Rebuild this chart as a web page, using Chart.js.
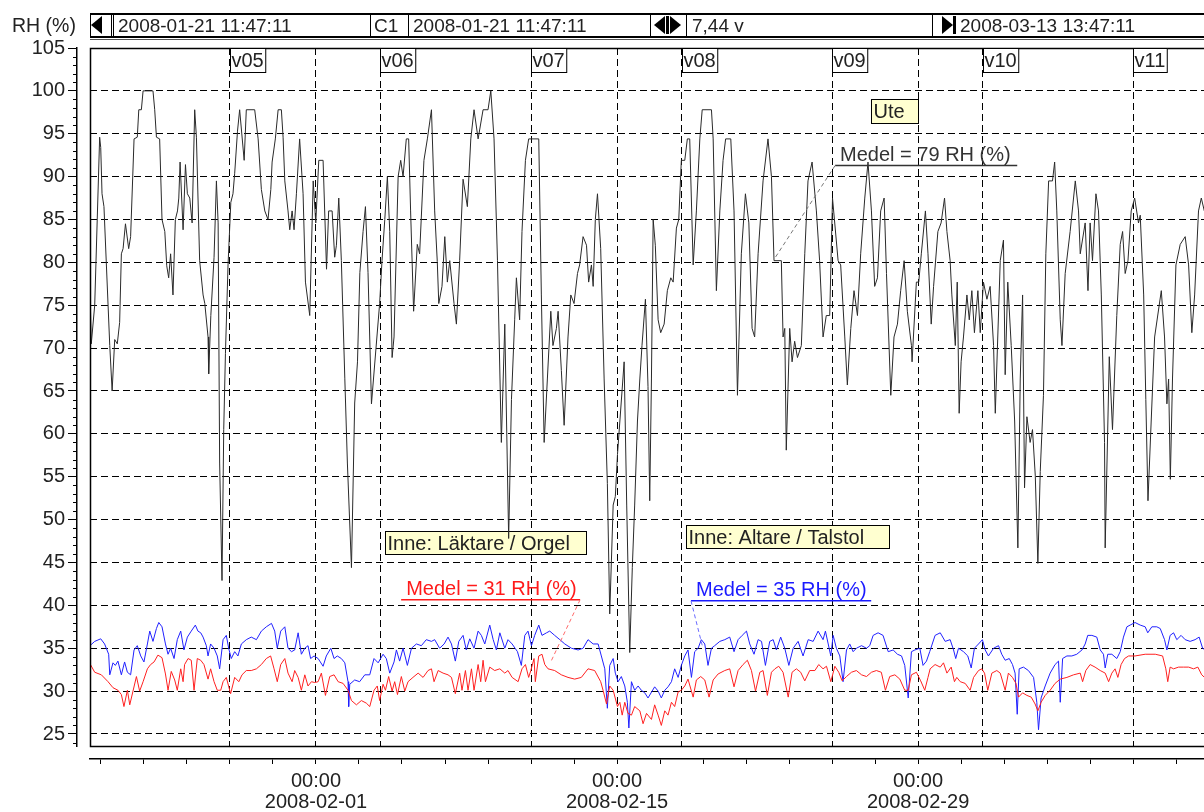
<!DOCTYPE html>
<html lang="sv">
<head>
<meta charset="utf-8">
<title>RH (%)</title>
<script src="https://cdn.jsdelivr.net/npm/chart.js@4.4.1/dist/chart.umd.min.js"></script>
<style>
  html, body { margin: 0; padding: 0; background: #fff; }
  body { width: 1204px; height: 812px; overflow: hidden; position: relative;
         font-family: "Liberation Sans", Arial, sans-serif; color: #222; }
  #graf { position: absolute; left: 0; top: 0; }
  #verktyg { position: absolute; left: 90px; top: 13px; width: 1130px; height: 25px; box-sizing: border-box;
             border: 1px solid #000; border-top-width: 2px; border-bottom-width: 2px; }
  #understreck { position: absolute; left: 90px; top: 39px; width: 1130px; height: 1px; background: #555; }
  .txt { position: absolute; top: 13px; line-height: 25px; font-size: 19px; white-space: nowrap; }
  .linje { position: absolute; top: 13px; width: 1px; height: 25px; background: #000; }
  .vpil { position: absolute; top: 16px; width: 0; height: 0; border-top: 9px solid transparent;
          border-bottom: 9px solid transparent; border-right: 11px solid #000; }
  .hpil { position: absolute; top: 16px; width: 0; height: 0; border-top: 9px solid transparent;
          border-bottom: 9px solid transparent; border-left: 11px solid #000; }
  .stapel { position: absolute; top: 16px; height: 18px; background: #000; }
  #rh { position: absolute; left: 12px; top: 13px; line-height: 25px; font-size: 19.5px; }
</style>
</head>
<body>
<canvas id="graf" width="1210" height="812"></canvas>

<div id="rh">RH (%)</div>
<div id="verktyg"></div>
<div id="understreck"></div>
<span class="vpil" style="left:91px"></span>
<span class="linje" style="left:111px"></span>
<span class="linje" style="left:113px"></span>
<span class="txt" style="left:118px">2008-01-21 11:47:11</span>
<span class="linje" style="left:370px"></span>
<span class="txt" style="left:374px">C1</span>
<span class="linje" style="left:408px"></span>
<span class="txt" style="left:413px">2008-01-21 11:47:11</span>
<span class="linje" style="left:650px"></span>
<span class="vpil" style="left:654px"></span>
<span class="stapel" style="left:666px;width:3px"></span>
<span class="hpil" style="left:670px"></span>
<span class="linje" style="left:686px"></span>
<span class="txt" style="left:692px">7,44 v</span>
<span class="linje" style="left:932px"></span>
<span class="hpil" style="left:942px"></span>
<span class="stapel" style="left:953px;width:3px"></span>
<span class="txt" style="left:960px">2008-03-13 13:47:11</span>

<script>
// Tidsaxel i dagar från 2008-01-21 00:00
const xMin = 0.4911;   // 2008-01-21 11:47:11
const xMax = 52.5744;  // 2008-03-13 13:47:11
const yMin = 23.6;
const yMax = 105;

const rhTicks = [25, 30, 35, 40, 45, 50, 55, 60, 65, 70, 75, 80, 85, 90, 95, 100, 105];
const datumDagar = [11, 25, 39];
const datumText = ["2008-02-01", "2008-02-15", "2008-02-29"];
const veckoDagar = [7, 14, 21, 28, 35, 42, 49];
const veckoText = ["v05", "v06", "v07", "v08", "v09", "v10", "v11"];

// Ute (svart)
const uteDag = [0.49,0.55,0.71,0.94,0.99,1.05,1.14,1.41,1.52,1.64,1.76,1.87,1.95,2.03,2.14,2.29,2.38,2.54,2.69,2.76,
  2.88,2.96,3.42,3.50,3.58,3.73,3.84,3.97,4.06,4.15,4.24,4.35,4.46,4.56,4.62,4.68,4.82,4.93,5.02,5.13,
  5.24,5.36,5.44,5.59,5.75,5.83,5.98,6.01,6.11,6.26,6.37,6.45,6.52,6.63,6.71,6.79,6.91,7.04,7.14,7.22,
  7.35,7.45,7.66,7.76,8.15,8.31,8.46,8.62,8.77,8.90,8.96,9.11,9.24,9.39,9.47,9.55,9.70,9.78,9.89,9.98,
  10.09,10.24,10.40,10.51,10.71,10.87,10.99,11.13,11.33,11.49,11.59,11.75,11.87,11.95,12.06,12.18,12.34,12.46,12.65,12.80,
  12.93,13.04,13.19,13.30,13.42,13.58,13.96,14.07,14.20,14.32,14.43,14.54,14.63,14.82,14.94,15.05,15.20,15.31,15.40,15.54,
  15.71,15.82,16.02,16.18,16.37,16.52,16.64,16.71,16.86,16.99,17.11,17.22,17.42,17.53,17.68,17.84,18.04,18.20,18.35,18.54,
  18.77,19.00,19.13,19.28,19.44,19.62,19.78,19.96,20.09,20.24,20.32,20.47,20.58,20.74,20.89,21.36,21.48,21.61,21.76,21.92,
  22.02,22.18,22.26,22.41,22.54,22.72,22.85,23.00,23.16,23.26,23.42,23.58,23.68,23.81,23.89,23.99,24.09,24.24,24.40,24.55,
  24.66,24.82,24.92,25.02,25.33,25.45,25.59,25.71,25.82,25.95,26.06,26.16,26.32,26.44,26.52,26.60,26.68,26.78,26.91,27.03,
  27.19,27.34,27.50,27.61,27.76,27.87,27.99,28.15,28.27,28.38,28.54,28.69,28.85,28.96,29.39,29.47,29.62,29.78,29.93,30.05,
  30.29,30.44,30.60,30.78,30.97,31.13,31.28,31.40,31.56,31.79,32.02,32.18,32.30,32.64,32.72,32.80,32.87,33.03,33.14,33.26,
  33.39,33.57,33.73,33.88,34.07,34.27,34.42,34.58,34.73,34.89,35.02,35.28,35.40,35.59,35.71,35.87,36.02,36.18,36.33,36.52,
  36.67,36.83,36.98,37.11,37.26,37.42,37.53,37.73,37.88,38.04,38.19,38.35,38.50,38.69,38.72,38.92,39.03,39.15,39.34,39.46,
  39.61,39.72,39.92,40.07,40.23,40.34,40.49,40.57,40.73,40.82,40.91,41.00,41.11,41.27,41.38,41.50,41.62,41.78,41.89,42.04,
  42.20,42.35,42.51,42.59,42.82,42.97,43.05,43.17,43.33,43.49,43.64,43.75,43.86,43.95,44.06,44.21,44.32,44.45,44.57,44.68,
  44.83,44.94,45.07,45.25,45.35,45.45,45.61,45.69,45.84,46.07,46.31,46.46,46.54,46.77,46.90,47.00,47.11,47.27,47.39,47.52,
  47.67,47.70,47.89,48.04,48.24,48.40,48.51,48.63,48.76,48.91,49.07,49.25,49.33,49.49,49.59,49.69,49.84,50.00,50.31,50.46,
  50.57,50.65,50.73,50.83,50.99,51.19,51.42,51.58,51.73,51.86,52.04,52.17,52.31,52.57];
const uteRH = [77,70.5,75,94.6,93.4,88,86.5,70.3,65,71,70.5,73,81,81.6,84.5,81.6,83,94.4,94.6,97.8,
  97.8,100,100,97.8,94.6,94.4,85,83.6,79.6,78.2,81,76.2,85,86,87.5,91.7,83.8,91.4,88,87.5,
  84.6,97.8,94.6,80.2,76.2,75.2,71.3,67,73.8,80.6,89.5,84.6,56.6,42.9,60.5,69.4,79.7,87,88,90.4,
  95.3,97.8,91.9,97.8,97.8,94.4,88.5,86,85,88.5,91.7,94.4,97.8,97.8,94.6,89.5,86,83.8,86,83.8,
  88,94.4,88,77.7,73.8,89.5,84.6,91.9,91.9,79.2,86,86,80.6,82,87.5,80.2,66.5,56.6,44.4,63.6,
  68.4,78.8,83.6,86.5,78.8,63.5,75.2,80.2,85,90,83.6,68.9,71.3,90,91.9,90,94.4,94.4,86,74.3,
  82.1,81,91.9,94.4,97.8,86,80.1,75.2,77.2,83,77.7,80.2,75.2,72.8,80.2,89.7,86.5,94.4,97.8,94.4,
  97.8,97.8,100,94.4,80.2,59,72.8,47.8,64,73.3,78.2,73.3,83.6,91.9,94.4,94.4,76.2,59,66.4,74.3,
  70.3,72.3,74.3,67.4,61,71.3,76.2,75.2,78.7,79.7,83,82,77.7,79.7,77.2,85,88,81.6,66.4,54.2,
  39,51.7,52.7,57.6,68.4,51.7,34.5,44.4,51.7,61.5,66.4,70.3,75.7,65.5,52.2,66.4,85,82,73.3,71.8,
  72.8,76.7,78.2,77.7,84,85,91.9,91.9,94.4,94.4,79.7,86,94.4,97.8,97.8,94.4,76.7,86,91.9,94.4,
  94.4,86,64.5,81,88,84.6,72.3,71.3,81,89.5,94.4,90,80.2,80.2,71.3,72.3,58.1,72.3,68.4,70.8,
  68.9,70.3,81,89.5,91.7,86,80.2,71.3,73.8,73.8,87.5,80.2,79.7,71.3,65.7,72.3,76.7,73.8,81,87.5,
  91.7,86,77.2,78.2,86,87.5,78.7,64.5,71.3,72.8,76.7,80.2,74.3,70.3,68.4,77.7,77.7,81,86,81,
  72.8,77.2,83.6,84.6,87.5,83.6,80.2,76.2,70.3,77.7,62.4,68.4,71.3,76.2,73.3,76.7,71.8,76.7,71.8,77.7,
  75.7,77.2,70.3,62.4,80.2,82.6,66.9,77.7,70.3,61.5,46.7,66.4,76.2,53.7,62,59,60.5,55.1,44.9,55.6,
  64.5,81,89.5,89.5,91.7,86,73.3,70.3,78.7,83.6,89.5,86,81,84.6,76.7,84.6,80.2,88,86,76.2,
  59,46.7,69,60.5,73.8,82.1,83.6,78.7,80.2,86,87.5,84.6,85.5,76.2,64,52.2,61.5,71.3,76.7,71.3,
  63.5,66.4,54.7,66.4,79.7,82.1,83,79.7,71.8,76.2,86,87.5,86,85];

// Inne: Läktare / Orgel (röd)
const laktareDag = [0.49,0.71,1.02,1.33,1.56,1.79,1.95,2.07,2.23,2.34,2.49,2.65,2.80,2.96,3.16,3.31,3.47,3.65,3.84,4.00,
  4.12,4.27,4.43,4.55,4.71,4.82,4.89,5.05,5.20,5.33,5.48,5.64,5.79,5.98,6.10,6.26,6.41,6.57,6.68,6.83,
  7.03,7.22,7.41,7.56,7.76,7.99,8.23,8.46,8.69,8.89,9.05,9.20,9.36,9.55,9.70,9.89,10.01,10.17,10.32,10.48,
  10.63,10.79,10.94,11.10,11.25,11.44,11.64,11.84,12.03,12.26,12.49,12.65,12.88,13.11,13.34,13.50,13.70,13.85,13.96,14.12,
  14.23,14.38,14.54,14.66,14.79,14.97,15.13,15.28,15.51,15.75,15.98,16.21,16.37,16.49,16.68,16.91,17.14,17.30,17.48,17.68,
  17.79,17.95,18.07,18.23,18.35,18.54,18.66,18.77,18.88,19.08,19.31,19.55,19.78,19.93,20.12,20.40,20.58,20.74,20.89,20.99,
  21.14,21.20,21.36,21.51,21.64,21.79,22.10,22.41,22.72,23.03,23.34,23.65,23.96,24.24,24.35,24.51,24.66,24.82,25.02,25.13,
  25.24,25.36,25.51,25.67,25.82,26.06,26.21,26.37,26.60,26.75,26.91,27.06,27.22,27.37,27.53,27.68,27.84,27.99,28.15,28.30,
  28.54,28.69,28.89,29.08,29.28,29.47,29.70,30.01,30.24,30.44,30.63,30.86,31.06,31.25,31.44,31.64,31.79,31.99,32.18,32.34,
  32.52,32.72,32.96,33.14,33.34,33.54,33.73,33.96,34.20,34.38,34.58,34.74,34.94,35.13,35.31,35.47,35.67,35.90,36.13,36.37,
  36.60,36.83,37.06,37.29,37.48,37.68,37.92,38.15,38.38,38.54,38.69,38.92,39.12,39.31,39.46,39.56,39.79,40.03,40.18,40.34,
  40.54,40.69,40.80,40.96,41.19,41.42,41.58,41.81,41.96,42.09,42.24,42.43,42.66,42.82,43.05,43.20,43.39,43.55,43.67,43.86,
  44.06,44.26,44.44,44.57,44.72,44.91,45.14,45.37,45.61,45.92,46.23,46.54,46.65,46.80,47.00,47.23,47.47,47.70,47.86,48.01,
  48.16,48.29,48.44,48.60,48.79,49.09,49.56,50.03,50.37,50.52,50.61,50.72,50.88,51.11,51.34,51.58,51.81,52.01,52.19,52.32,
  52.57];
const laktareRH = [33.2,32.2,31.9,31.1,30.4,30.1,29.6,28.2,30.1,28.4,30,31.7,30,31.1,32.6,33.1,33.4,34.2,33.9,32,
  30.1,32.3,31.3,30.1,32.6,31.1,33.1,33.8,33.6,30.1,33.8,33.6,33.1,31.4,32.6,31.1,30.1,30.1,31.1,31.6,
  29.7,31.6,31.1,31.9,32.4,32.4,32.6,33.1,33.8,34.1,32.6,31.1,33.1,33.8,32.1,31.1,32.4,31.6,30.1,31.9,
  30.6,31.1,31,31.1,32.1,29.5,31.7,31.9,31.1,30.9,30.1,28.9,28.4,28.9,28.6,28.2,30.1,30.6,28.9,30.8,
  30.1,31.7,30,31.1,29.6,31.7,30,31.1,31.6,32.1,31.6,32.4,32.6,31.1,32.4,32.1,31.9,31.6,29.7,32.1,
  30.1,32.4,30.1,32.6,30.1,33.1,31.1,33.6,31.1,32.8,32.4,32.6,32.1,32.4,31.6,31.1,32.6,33.1,31.6,32.4,
  33.8,31.1,34.1,34.3,33.1,32.6,32.4,31.9,31.6,31.4,31.6,32.6,32.4,31.1,30.1,28.5,30.6,30.1,28.2,28.7,
  27.2,28.7,27.4,27.2,28.2,27.7,26.2,27.4,26.7,28.4,27.2,26,27.7,27.2,28.7,28.2,29.9,30.1,30.6,31.4,
  29.3,31.3,31.7,31.3,29.3,31.3,32,32.4,32.6,30.5,32.4,33.1,33.6,32.4,30,32.2,32.4,29.5,32.2,32.6,
  32.9,32.2,29.3,32.2,32.6,32.2,31.2,32.4,32.4,33.1,32.6,32.9,31.1,32.9,32.2,31.2,31.7,32.2,32.4,31.9,
  31.7,32.2,32.4,32.2,30.1,31.7,31.9,31.4,30.1,30.1,31.9,32.2,31.2,30.1,31.6,32.6,33.1,32.8,33.3,32.1,
  32.8,31.1,31.6,31.1,30.9,30.1,31.6,32.4,32.6,32.1,30.1,32.1,32.4,32.1,30.1,32.1,31.6,30.9,29.3,29.8,
  29.5,29.3,28.5,27.7,28.7,29.5,30.1,30.9,31.4,31.6,31.9,32.1,31.1,32.4,33.1,32.8,32.4,32.1,31.1,32.1,
  32.6,31.6,33.1,33.8,34.1,34.1,34.3,34.3,34.1,32.6,31.1,32.8,32.6,32.8,32.8,32.8,32.6,32.8,31.9,31.6,
  31];

// Inne: Altare / Talstol (blå)
const altareDag = [0.49,0.71,0.99,1.17,1.36,1.41,1.56,1.67,1.79,1.95,2.10,2.23,2.38,2.54,2.69,2.85,3.00,3.16,3.27,3.42,
  3.58,3.69,3.84,4.00,4.12,4.24,4.40,4.55,4.71,4.86,5.02,5.20,5.39,5.51,5.64,5.75,5.90,5.98,6.10,6.26,
  6.41,6.52,6.68,6.83,6.94,7.06,7.22,7.37,7.53,7.76,7.99,8.23,8.46,8.69,8.93,9.08,9.20,9.36,9.55,9.70,
  9.86,10.01,10.17,10.32,10.48,10.63,10.75,10.91,11.10,11.33,11.48,11.69,11.84,11.99,12.18,12.34,12.49,12.52,12.57,12.80,
  13.03,13.27,13.50,13.70,13.89,14.12,14.27,14.43,14.63,14.74,14.89,15.05,15.25,15.44,15.67,15.90,16.13,16.37,16.52,16.75,
  16.96,17.14,17.30,17.48,17.64,17.84,17.99,18.15,18.35,18.54,18.69,18.85,19.08,19.24,19.39,19.55,19.78,19.93,20.12,20.37,
  20.55,20.71,20.86,21.02,21.17,21.36,21.51,21.72,21.87,22.10,22.34,22.57,22.88,23.19,23.42,23.65,23.89,24.12,24.27,24.43,
  24.55,24.66,24.82,24.92,25.05,25.20,25.36,25.48,25.55,25.67,25.82,25.98,26.13,26.29,26.44,26.75,26.91,27.06,27.22,27.37,
  27.53,27.68,27.84,27.99,28.15,28.30,28.46,28.61,28.77,28.92,29.08,29.23,29.39,29.54,29.78,30.01,30.24,30.44,30.63,30.82,
  31.02,31.17,31.37,31.56,31.72,31.90,32.10,32.26,32.41,32.61,32.80,32.99,33.19,33.42,33.65,33.89,34.12,34.35,34.58,34.69,
  34.82,34.94,35.05,35.20,35.36,35.51,35.67,35.82,35.98,36.13,36.37,36.60,36.75,36.91,37.14,37.37,37.61,37.84,38.04,38.23,
  38.38,38.54,38.69,38.85,39.08,39.23,39.39,39.54,39.79,40.03,40.26,40.49,40.65,40.75,40.88,41.11,41.31,41.47,41.62,41.81,
  41.99,42.12,42.27,42.51,42.74,42.89,43.05,43.24,43.39,43.51,43.61,43.70,43.90,44.13,44.37,44.52,44.60,44.72,44.91,45.14,
  45.37,45.53,45.61,45.72,45.92,46.15,46.38,46.62,46.77,46.89,47.08,47.31,47.47,47.62,47.70,47.82,48.01,48.24,48.40,48.55,
  48.71,48.86,49.09,49.33,49.56,49.68,49.87,50.10,50.26,50.46,50.57,50.72,50.88,51.03,51.23,51.42,51.65,51.88,52.07,52.23,
  52.35,52.57];
const altareRH = [35.3,35.8,36.1,35.5,34.3,31.9,33.3,33,33.5,31.9,33.4,32.2,31.9,34.8,35.3,34.1,33.4,35.5,37,35.8,
  37.3,38,37.5,35.5,34.3,35,33.8,36,37,34.8,36.3,37,37.7,37,36.8,36.3,35.3,34.1,35.5,35,
  34.1,32.6,36,36.5,35,33.8,34.6,34.1,35.5,36,36.3,36,37,37.5,37.9,37,35,37,37.5,35,
  34.6,34.8,36.8,34.3,35,35.3,33.8,34.1,33.8,32.9,34.1,35,33.8,34.1,33.8,33.3,31.1,28.2,30.8,31.3,
  31.1,31.9,31.9,33.8,33.3,34.3,33.8,32.1,33.4,34.8,33.5,35,33,35,35.5,35.3,36,35.8,36,35,
  35.5,36.3,35.5,33.5,35.8,36.5,34.8,36.1,35,37,36.5,35.5,37.7,36,34.8,36.8,35,36,35.5,34.6,
  33,36.5,37,35.3,36.5,37.7,36.5,36.8,37,36.5,36,35.5,35,34.8,35,36,35.5,35.5,34.1,32.6,
  28,33,33.8,32.1,31.1,31.7,30.6,28.7,25.7,31.1,30.1,30.6,30.1,29.8,29.2,30.5,30,29.2,30.1,30.5,
  31.1,32.6,31.6,33,34.1,34.8,31.6,34.6,35,36,35.5,33,35,35.3,35.8,36,36.3,34.6,36,36.5,
  37,35.5,34.3,36,35.8,33,35.8,36,34.8,36.3,35,33,35,35.8,34.1,36,35.8,37,36,37,
  35.5,34.1,36.5,35,34.1,31.1,34.8,35.5,34.6,35,35.3,35,35.3,36.5,36.8,36.5,34.6,34.8,34.3,34.1,
  33,29.2,34.6,34.8,35,33,33.5,34.6,36.5,36.8,35.8,36,34.8,33.8,35,34.6,34.1,32.7,35,35.5,
  36,34.8,34.1,35,35.3,34.3,33.6,33.8,33.1,32.1,27.3,32.6,32.8,32.4,31.6,28.7,25.5,29.2,30.6,32.1,
  33.1,33.5,28.7,33.8,34.1,34.1,34.3,34.8,35.5,36.5,36.5,36.3,34.8,34.3,32.7,34.3,34.3,33.8,34.6,36.3,
  37.5,37.7,38,37.7,37.5,36.8,37.5,37.5,37.3,36,34.8,36.5,36.8,36,36.5,36,35.8,36,36.3,35,
  34.8,35.3];

const punkter = (dag, rh) => dag.map((d, i) => ({ x: d, y: rh[i] }));

// Textrutor och medelvärden (placerade i dataenheter)
const rutor = [
  { text: "Ute", dag: 36.82, rh: 99.1, b: 47, h: 24 },
  { text: "Inne: Läktare / Orgel", dag: 14.21, rh: 48.64, b: 201, h: 23 },
  { text: "Inne: Altare / Talstol", dag: 28.21, rh: 49.34, b: 203, h: 23 }
];
const medel = [
  { text: "Medel = 79 RH (%)", farg: "#333", led: "#777", fran: 35.14, till: 43.61, rh: 91.29, ände: "v", mot: [32.35, 80.54] },
  { text: "Medel = 31 RH (%)", farg: "#ff1a1a", led: "#ff6a6a", fran: 14.96, till: 23.28, rh: 40.65, ände: "h", mot: [21.93, 33.47] },
  { text: "Medel = 35 RH (%)", farg: "#1a1aff", led: "#6a6aff", fran: 28.44, till: 36.82, rh: 40.53, ände: "v", mot: [28.96, 35.34] }
];

const FONT = '"Liberation Sans", Arial, sans-serif';
Chart.defaults.font.family = FONT;
Chart.defaults.color = "#222";

const ritPlugin = {
  id: "rit",
  beforeDatasetsDraw(chart) {
    const { ctx, scales: { x, y } } = chart;
    ctx.save();
    ctx.font = "20px " + FONT;
    ctx.textBaseline = "middle";
    rutor.forEach(r => {
      const px = Math.round(x.getPixelForValue(r.dag)) + 0.5;
      const py = Math.round(y.getPixelForValue(r.rh)) + 0.5;
      ctx.fillStyle = "#ffffd0";
      ctx.fillRect(px, py, r.b, r.h);
      ctx.strokeStyle = "#000";
      ctx.lineWidth = 1;
      ctx.strokeRect(px, py, r.b, r.h);
      ctx.fillStyle = "#222";
      ctx.fillText(r.text, px + 2, py + r.h / 2 + 1);
    });
    ctx.restore();
  },
  afterDatasetsDraw(chart) {
    const { ctx, chartArea: a, scales: { x, y } } = chart;
    ctx.save();
    // medelvärden
    ctx.font = "20px " + FONT;
    ctx.textBaseline = "alphabetic";
    medel.forEach(m => {
      const x1 = x.getPixelForValue(m.fran), x2 = x.getPixelForValue(m.till);
      const py = y.getPixelForValue(m.rh);
      ctx.fillStyle = m.farg;
      ctx.fillText(m.text, x1 + 5, py - 5);
      ctx.strokeStyle = m.farg;
      ctx.lineWidth = 1.5;
      ctx.setLineDash([]);
      ctx.beginPath(); ctx.moveTo(x1, py); ctx.lineTo(x2, py); ctx.stroke();
      ctx.strokeStyle = m.led;
      ctx.lineWidth = 1;
      ctx.setLineDash([4, 3]);
      ctx.beginPath();
      ctx.moveTo(m.ände === "v" ? x1 : x2, py);
      ctx.lineTo(x.getPixelForValue(m.mot[0]), y.getPixelForValue(m.mot[1]));
      ctx.stroke();
    });
    ctx.setLineDash([]);
    // ram
    ctx.strokeStyle = "#000";
    ctx.lineWidth = 1.5;
    ctx.strokeRect(a.left + 0.5, a.top + 0.5, a.right - a.left, a.bottom - a.top);
    // veckor
    ctx.font = "20px " + FONT;
    ctx.textBaseline = "middle";
    veckoDagar.forEach((d, i) => {
      const px = Math.round(x.getPixelForValue(d)) + 0.5;
      const w = ctx.measureText(veckoText[i]).width + 3;
      ctx.fillStyle = "#fff";
      ctx.fillRect(px, a.top, w, 24);
      ctx.lineWidth = 1;
      ctx.strokeRect(px, a.top + 0.5, w, 24);
      ctx.fillStyle = "#222";
      ctx.fillText(veckoText[i], px + 1, a.top + 13);
    });
    ctx.restore();
  },
  afterDraw(chart) {
    const { ctx, scales: { yb } } = chart;
    ctx.save();
    ctx.strokeStyle = "#000";
    ctx.lineWidth = 1;
    for (let v = 24; v <= 105; v++) {
      if (v % 5 === 0) continue;
      const py = Math.round(yb.getPixelForValue(v)) + 0.5;
      ctx.beginPath(); ctx.moveTo(yb.right - 4, py); ctx.lineTo(yb.right, py); ctx.stroke();
    }
    ctx.restore();
  }
};

const udda = [];
for (let d = 1; d <= 51; d += 2) udda.push({ value: d });
const rutnatDagar = [7, 11, 14, 21, 25, 28, 35, 39, 42, 49];

new Chart(document.getElementById("graf"), {
  type: "line",
  data: {
    datasets: [
      { label: "Inne: Läktare / Orgel", data: punkter(laktareDag, laktareRH), borderColor: "#ff2020", borderWidth: 1 },
      { label: "Inne: Altare / Talstol", data: punkter(altareDag, altareRH), borderColor: "#2020ff", borderWidth: 1 },
      { label: "Ute", data: punkter(uteDag, uteRH), borderColor: "#2a2a2a", borderWidth: 1 }
    ]
  },
  options: {
    responsive: false,
    devicePixelRatio: 1,
    animation: false,
    events: [],
    elements: { point: { radius: 0 }, line: { tension: 0 } },
    layout: { padding: { top: 48, left: 0, right: 0, bottom: 0 } },
    plugins: { legend: { display: false }, tooltip: { enabled: false } },
    scales: {
      x: {
        type: "linear", position: "bottom", weight: 0, min: xMin, max: xMax,
        afterBuildTicks: s => { s.ticks = rutnatDagar.map(v => ({ value: v })); },
        afterFit: s => { s.height = 13; },
        ticks: { display: false },
        grid: { color: "#000", lineWidth: 1, drawTicks: false },
        border: { display: false, dash: [7, 4] }
      },
      xb: {
        type: "linear", position: "bottom", weight: 1, min: xMin, max: xMax,
        afterBuildTicks: s => { s.ticks = udda.slice(); },
        afterFit: s => { s.height = 53; },
        ticks: {
          autoSkip: false, maxRotation: 0, minRotation: 0, padding: 7, color: "#222",
          font: { size: 20, lineHeight: 1.05 },
          callback: v => {
            const i = datumDagar.indexOf(v);
            return i >= 0 ? ["00:00", datumText[i]] : "";
          }
        },
        grid: { drawOnChartArea: false, drawTicks: true, tickLength: 5, color: "#000" },
        border: { display: true, color: "#000", width: 1.5 }
      },
      y: {
        type: "linear", position: "left", weight: 0, min: yMin, max: yMax,
        afterBuildTicks: s => { s.ticks = rhTicks.filter(v => v < 105).map(v => ({ value: v })); },
        afterFit: s => { s.width = 13; },
        ticks: { display: false },
        grid: { color: "#000", lineWidth: 1, drawTicks: false },
        border: { display: false, dash: [7, 4] }
      },
      yb: {
        type: "linear", position: "left", weight: 1, min: yMin, max: yMax,
        afterBuildTicks: s => { s.ticks = rhTicks.map(v => ({ value: v })); },
        afterFit: s => { s.width = 77; },
        ticks: { autoSkip: false, padding: 3, color: "#222", font: { size: 20 } },
        grid: { drawOnChartArea: false, drawTicks: true, tickLength: 9, color: "#000" },
        border: { display: true, color: "#000", width: 1.5 }
      }
    }
  },
  plugins: [ritPlugin]
});
</script>
</body>
</html>
